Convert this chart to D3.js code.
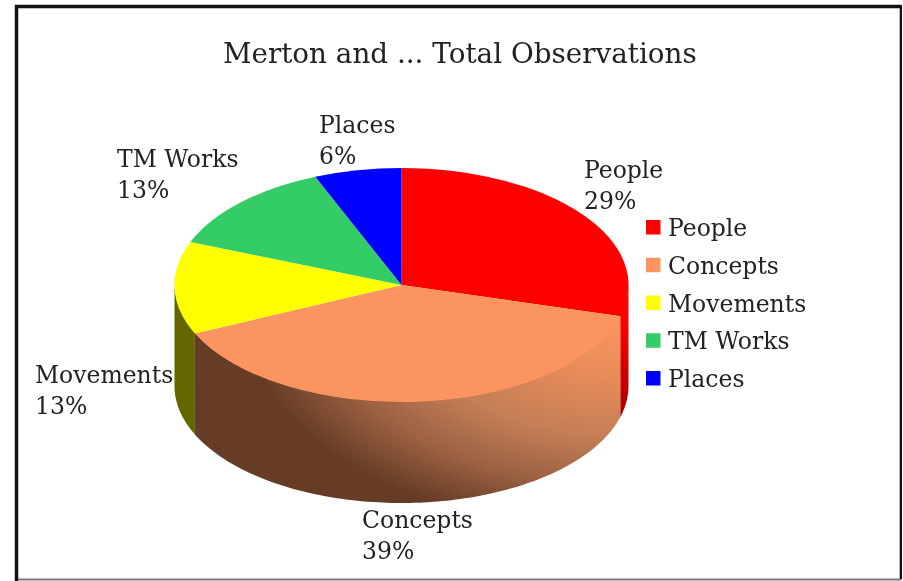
<!DOCTYPE html>
<html>
<head>
<meta charset="UTF-8">
<title>Merton and ... Total Observations</title>
<style>
    html, body { margin: 0; padding: 0; background: #fff; }
    svg { display: block; filter: blur(0.45px); }
    text { font-family: "DejaVu Serif", serif; fill: #222; }
</style>
</head>
<body>
<div id="chart"></div>
<script src="https://d3js.org/d3.v7.min.js"></script>
<script>
    // values (slice angles), labels show them rounded
    var categories = ['People', 'Concepts', 'Movements', 'TM Works', 'Places'];
    var shares = [29.3, 38.9, 12.8, 12.8, 6.2];
    var colors = ['#ff0000', '#fa9460', '#ffff00', '#33cc66', '#0000ff'];
    var chartTitle = 'Merton and ... Total Observations';

    var width = 903;
    var height = 581;
    var cx = 401.5;
    var cy = 285;
    var rx = 227;
    var ry = 117;
    var depth = 101;

    // top-left corner of each slice label
    var labelX = [584, 362, 35, 117, 319];
    var labelY = [178, 528, 383, 167, 133];

    var svg = d3.select('#chart')
        .append('svg')
        .attr('width', width)
        .attr('height', height);

    // frame
    svg.append('rect').attr('x', 16.5).attr('y', 6.5).attr('width', 884).attr('height', 573)
        .attr('fill', 'none').attr('stroke', '#777').attr('stroke-width', 2);
    svg.append('path').attr('d', 'M16.5,581V6.5H901')
        .attr('fill', 'none').attr('stroke', '#111').attr('stroke-width', 3.5);
    svg.append('line').attr('x1', 901).attr('x2', 901).attr('y1', 5).attr('y2', 579)
        .attr('stroke', '#111').attr('stroke-width', 2);

    var defs = svg.append('defs');

    var redWall = defs.append('linearGradient').attr('id', 'wall0')
        .attr('gradientUnits', 'userSpaceOnUse')
        .attr('x1', 0).attr('x2', 0).attr('y1', 320).attr('y2', 416);
    redWall.append('stop').attr('offset', 0).attr('stop-color', '#ff0000');
    redWall.append('stop').attr('offset', 1).attr('stop-color', '#a80000');

    // the lit corner of the concepts wall sits at its right end
    var orangeWall = defs.append('radialGradient').attr('id', 'wall1')
        .attr('gradientUnits', 'userSpaceOnUse')
        .attr('cx', 0).attr('cy', 0).attr('r', 1)
        .attr('gradientTransform', 'translate(625,325) scale(375,205)');
    orangeWall.append('stop').attr('offset', 0).attr('stop-color', '#fa9460');
    orangeWall.append('stop').attr('offset', 0.25).attr('stop-color', '#e88c5a');
    orangeWall.append('stop').attr('offset', 0.55).attr('stop-color', '#c47e56');
    orangeWall.append('stop').attr('offset', 0.78).attr('stop-color', '#9c6243');
    orangeWall.append('stop').attr('offset', 1).attr('stop-color', '#673c26');

    var pie = d3.pie().sort(null).value(function(d) { return d; });
    var slices = pie(shares);

    // walls are only visible on the front half of the ellipse
    var front = [Math.PI / 2, Math.PI * 3 / 2];
    var edgeX = function(a) { return cx + rx * Math.sin(a); };
    var edgeY = function(a) { return cy - ry * Math.cos(a); };

    function wallPath(d) {
        var a0 = Math.max(d.startAngle, front[0]);
        var a1 = Math.min(d.endAngle, front[1]);
        if (a1 <= a0) return null;
        var angles = d3.range(0, 121).map(function(i) { return a0 + (a1 - a0) * i / 120; });
        // upper edge tucked under the top face so no seam shows
        var upper = angles.map(function(a) { return [edgeX(a), edgeY(a) - 2]; });
        var lower = angles.slice().reverse().map(function(a) { return [edgeX(a), edgeY(a) + depth]; });
        return d3.line()(upper.concat(lower)) + 'Z';
    }

    var wallFill = ['url(#wall0)', 'url(#wall1)', '#666600', '#1f7a3d', '#000099'];

    svg.append('g').selectAll('path')
        .data(slices)
        .enter()
        .append('path')
        .attr('d', wallPath)
        .attr('fill', function(d, i) { return wallFill[i]; });

    var arc = d3.arc().innerRadius(0).outerRadius(rx);

    svg.append('g')
        .attr('transform', 'translate(' + cx + ',' + cy + ') scale(1,' + (ry / rx) + ')')
        .selectAll('path')
        .data(slices)
        .enter()
        .append('path')
        .attr('d', arc)
        .attr('fill', function(d, i) { return colors[i]; });

    svg.append('text')
        .attr('x', 223)
        .attr('y', 63)
        .attr('font-size', 27.8)
        .text(chartTitle);

    // slice labels, name over percentage
    var labels = svg.append('g').selectAll('text')
        .data(slices)
        .enter()
        .append('text')
        .attr('font-size', 23.5);

    labels.append('tspan')
        .attr('x', function(d, i) { return labelX[i]; })
        .attr('y', function(d, i) { return labelY[i]; })
        .text(function(d, i) { return categories[i]; });

    labels.append('tspan')
        .attr('x', function(d, i) { return labelX[i]; })
        .attr('y', function(d, i) { return labelY[i] + 31; })
        .text(function(d) { return Math.round(d.value) + '%'; });

    // legend
    var legendStep = d3.scalePoint()
        .domain(categories)
        .range([220, 371]);

    var legend = svg.selectAll('.legend')
        .data(categories)
        .enter()
        .append('g')
        .attr('class', 'legend')
        .attr('transform', function(d) { return 'translate(646,' + legendStep(d) + ')'; });

    legend.append('rect')
        .attr('width', 14.5)
        .attr('height', 14.5)
        .attr('fill', function(d, i) { return colors[i]; });

    legend.append('text')
        .attr('x', 22)
        .attr('y', 16)
        .attr('font-size', 23.5)
        .text(function(d) { return d; });
</script>
</body>
</html>
